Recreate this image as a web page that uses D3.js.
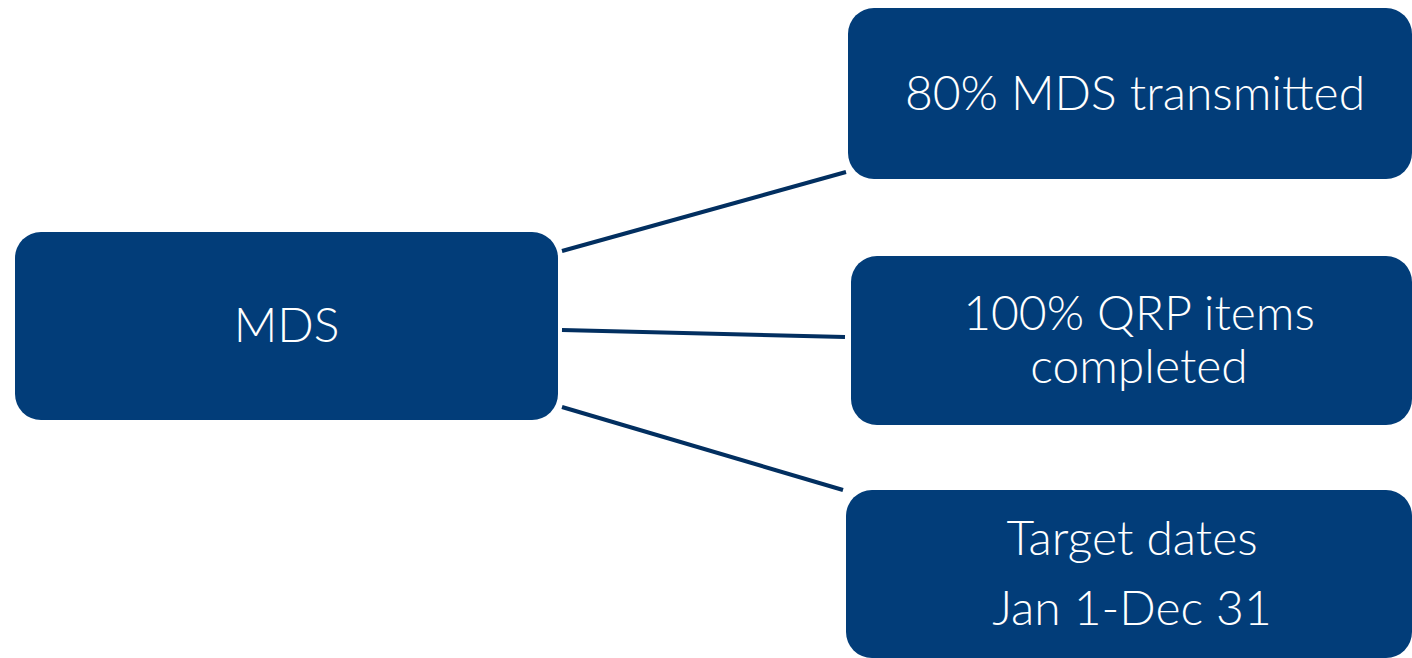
<!DOCTYPE html>
<html>
<head>
<meta charset="utf-8">
<script src="https://cdn.jsdelivr.net/npm/d3@7"></script>
<style>
  body { margin: 0; background: #fff; }
  svg { display: block; }
</style>
</head>
<body>
<script>
// diagram content
const rootLabel = ['MDS']
const childLabels = [
  ['80% MDS transmitted'],
  ['100% QRP items', 'completed'],
  ['Target dates', 'Jan 1-Dec 31']
]

const w = 1412
const h = 658
const boxFill = '#023d79'
const lineColor = '#022f60'

// box layout (x, y, width, height)
const rootBox = { x: 15, y: 232, w: 543, h: 188 }
const childBoxes = [
  { x: 848, y: 8, w: 564, h: 171 },
  { x: 851, y: 256, w: 561, h: 169 },
  { x: 846, y: 490, w: 566, h: 168 }
]
// connector ends
const linkStart = [[562, 251], [562, 330], [562, 407]]
const linkEnd = [[846, 172], [845, 337], [843, 490]]
// text line spacing
const childLineGap = [0, 53, 70]
const textX = [1135, 1139, 1132]

const svg = d3.select('body')
  .append('svg')
  .attr('width', w)
  .attr('height', h)

svg.selectAll('line.link')
  .data(childLabels)
  .enter()
  .append('line')
  .attr('class', 'link')
  .attr('x1', (d, i) => linkStart[i][0])
  .attr('y1', (d, i) => linkStart[i][1])
  .attr('x2', (d, i) => linkEnd[i][0])
  .attr('y2', (d, i) => linkEnd[i][1])
  .attr('stroke', lineColor)
  .attr('stroke-width', 4)

svg.append('rect')
  .attr('x', rootBox.x)
  .attr('y', rootBox.y)
  .attr('width', rootBox.w)
  .attr('height', rootBox.h)
  .attr('rx', 26)
  .attr('fill', boxFill)

svg.append('text')
  .attr('x', rootBox.x + rootBox.w / 2)
  .attr('y', rootBox.y + rootBox.h / 2 + 16)
  .attr('text-anchor', 'middle')
  .attr('font-family', 'Lato')
  .attr('font-weight', 300)
  .attr('font-size', 48)
  .attr('fill', '#fff')
  .text(rootLabel[0])

const g = svg.selectAll('g.child')
  .data(childLabels)
  .enter()
  .append('g')
  .attr('class', 'child')

g.append('rect')
  .attr('x', (d, i) => childBoxes[i].x)
  .attr('y', (d, i) => childBoxes[i].y)
  .attr('width', (d, i) => childBoxes[i].w)
  .attr('height', (d, i) => childBoxes[i].h)
  .attr('rx', 26)
  .attr('fill', boxFill)

g.each(function (d, i) {
  const b = childBoxes[i]
  const gap = childLineGap[i]
  const cy = b.y + b.h / 2 + 16 - gap * (d.length - 1) / 2
  d3.select(this).selectAll('text')
    .data(d)
    .enter()
    .append('text')
    .attr('x', textX[i])
    .attr('y', (t, j) => cy + j * gap)
    .attr('text-anchor', 'middle')
    .attr('font-family', 'Lato')
    .attr('font-weight', 300)
    .attr('font-size', 48)
    .attr('fill', '#fff')
    .text(t => t)
})
</script>
</body>
</html>
